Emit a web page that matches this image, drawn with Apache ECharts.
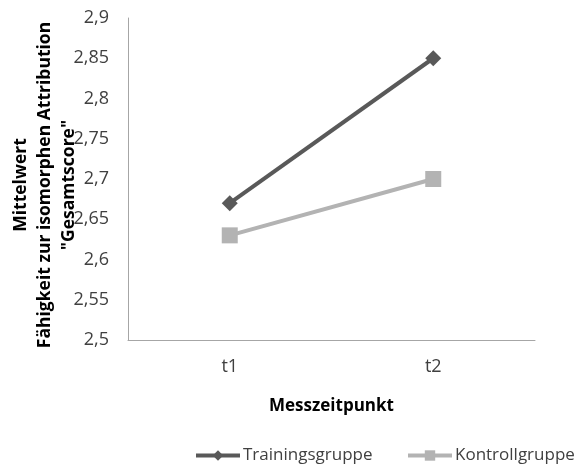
<!DOCTYPE html>
<html>
<head>
<meta charset="utf-8">
<script src="https://cdn.jsdelivr.net/npm/echarts@6/dist/echarts.min.js"></script>
<style>
  html, body { margin: 0; padding: 0; background: #fff; }
  #chart { width: 575px; height: 465px; }
</style>
</head>
<body>
<div id="chart"></div>
<script>
// Measurement points and group means
const categories = ['t1', 't2'];
const trainingsgruppe = [2.67, 2.85];
const kontrollgruppe = [2.63, 2.70];
const yMin = 2.5, yMax = 2.9, yStep = 0.05;

const font = '"Open Sans", "Noto Sans", sans-serif';
const chart = echarts.init(document.getElementById('chart'), null, { renderer: 'canvas' });

const legendText = { fontFamily: font, fontSize: 17, color: '#404040', padding: [0, 0, 0, -2] };
const legendBase = {
  orient: 'horizontal',
  top: 442,
  itemWidth: 44,
  itemHeight: 13,
  lineStyle: { width: 4 },
  textStyle: legendText
};

chart.setOption({
  backgroundColor: '#ffffff',
  animation: false,
  textStyle: { fontFamily: font },
  grid: { left: 128, right: 40, top: 18, bottom: 125, containLabel: false },
  legend: [
    Object.assign({}, legendBase, { left: 189, data: ['Trainingsgruppe'] }),
    Object.assign({}, legendBase, { left: 401, data: ['Kontrollgruppe'] })
  ],
  xAxis: {
    type: 'category',
    data: categories,
    boundaryGap: true,
    name: 'Messzeitpunkt',
    nameLocation: 'middle',
    nameGap: 58,
    nameTextStyle: { fontFamily: font, fontSize: 17, fontWeight: 'bold', color: '#000' },
    axisLine: { lineStyle: { color: '#a6a6a6', width: 1 } },
    axisTick: { show: false },
    axisLabel: { fontFamily: font, fontSize: 18, color: '#404040', margin: 18 }
  },
  yAxis: {
    type: 'value',
    min: yMin,
    max: yMax,
    interval: yStep,
    axisLine: { show: true, lineStyle: { color: '#a6a6a6', width: 1 } },
    axisTick: { show: false },
    splitLine: { show: false },
    axisLabel: {
      fontFamily: font, fontSize: 18, color: '#404040', margin: 19,
      formatter: v => String(Math.round(v * 100) / 100).replace('.', ',')
    }
  },
  graphic: [{
    type: 'text',
    x: 45,
    y: 185,
    rotation: Math.PI / 2,
    style: {
      text: 'Mittelwert\nFähigkeit zur isomorphen Attribution\n"Gesamtscore"',
      fontFamily: font,
      fontSize: 17.5,
      fontWeight: 'bold',
      lineHeight: 24,
      fill: '#000',
      align: 'center',
      verticalAlign: 'middle'
    }
  }],
  series: [
    {
      name: 'Trainingsgruppe',
      type: 'line',
      data: trainingsgruppe,
      symbol: 'diamond',
      symbolSize: 16,
      lineStyle: { color: '#595959', width: 4 },
      itemStyle: { color: '#595959' }
    },
    {
      name: 'Kontrollgruppe',
      type: 'line',
      data: kontrollgruppe,
      symbol: 'rect',
      symbolSize: 16,
      lineStyle: { color: '#b3b3b3', width: 4 },
      itemStyle: { color: '#b3b3b3' }
    }
  ]
});
</script>
</body>
</html>
